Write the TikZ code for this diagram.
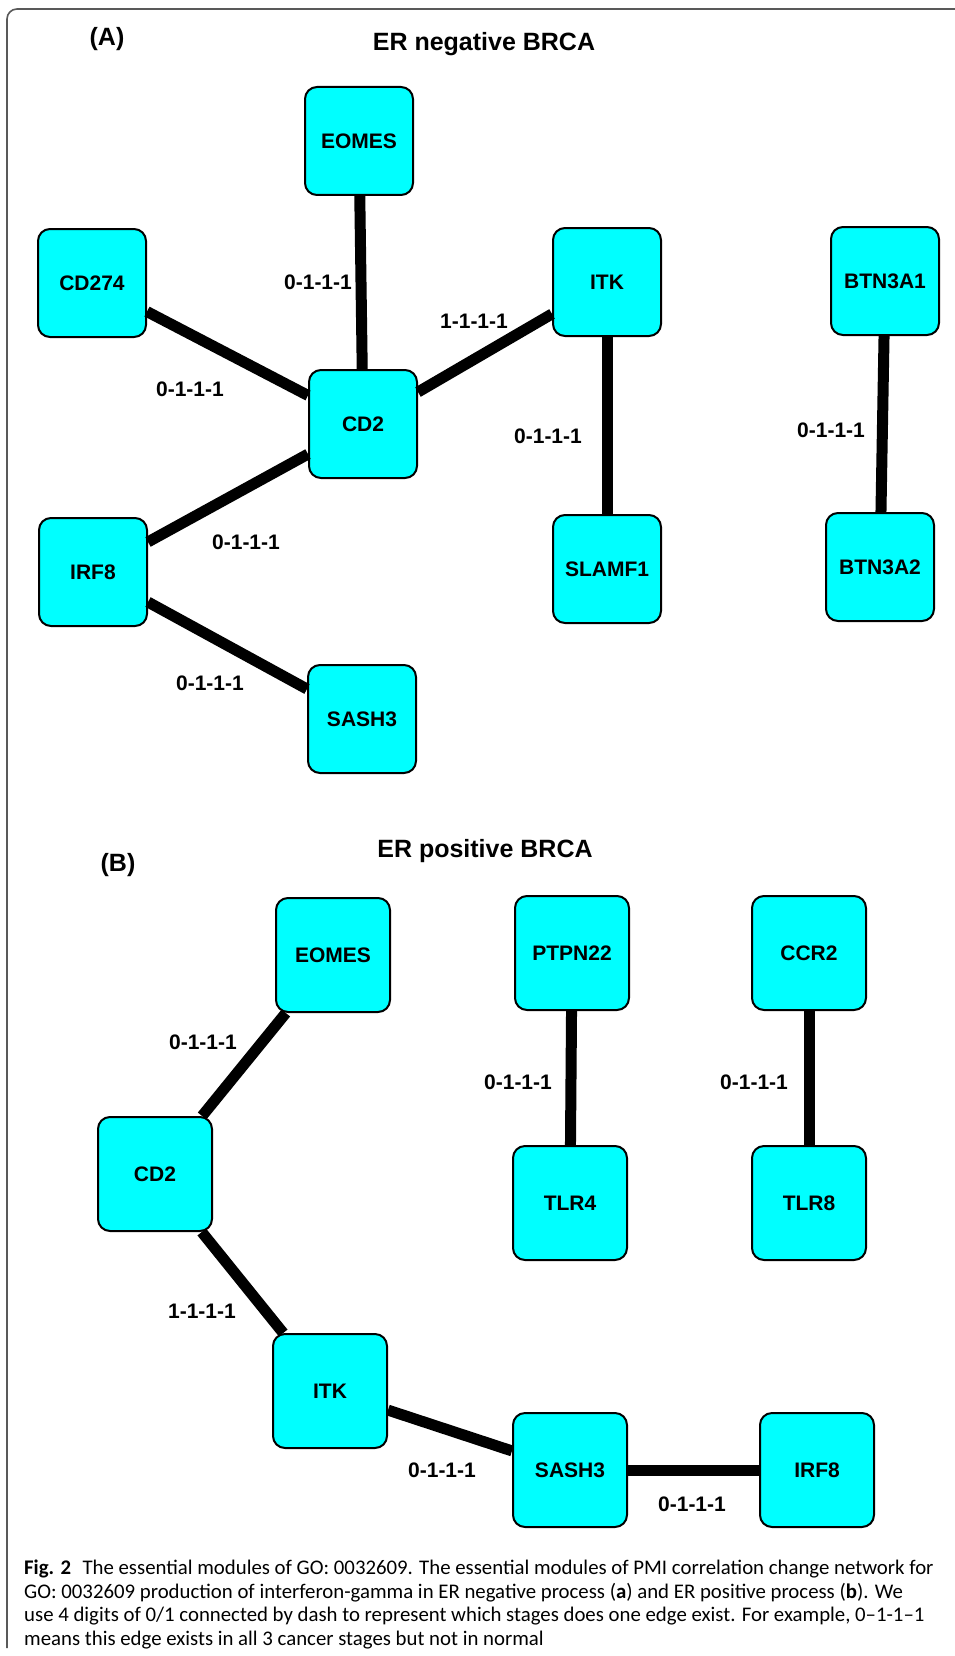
\documentclass[tikz,border=0pt]{standalone}
\usepackage{fontspec}
\setmainfont{Liberation Sans}
\newfontfamily\capfont{Carlito}
\usetikzlibrary{positioning}
\definecolor{aqua}{RGB}{0,255,255}

\begin{document}
\begin{tikzpicture}[x=1pt,y=-1pt,
  gene/.style={draw,line width=2pt,rounded corners=12pt,fill=aqua,minimum size=108pt,inner sep=0pt,font=\fontsize{21}{25}\selectfont\bfseries},
  geneb/.style={gene,minimum size=114pt},
  link/.style={line width=11pt},
  elab/.style={font=\fontsize{21}{25}\selectfont\bfseries,inner sep=0pt},
  ttl/.style={font=\fontsize{25}{30}\selectfont\bfseries,inner sep=0pt}]
\useasboundingbox (0,0) rectangle (955,1656);
\draw[line width=1.6pt,black!65,rounded corners=10pt] (7,1648) -- (7,9) -- (960,9);

\node[ttl] (ta) at (107,39) {(A)};
\node[ttl] (tna) at (484,44) {ER negative BRCA};
\node[gene] (eomesA) at (359,141) {EOMES};
\node[gene] (cd274A) at (92,283) {CD274};
\node[gene] (itkA) at (607,282) {ITK};
\node[gene] (btn1A) at (885,281) {BTN3A1};
\node[gene] (cd2A) at (363,424) {CD2};
\node[gene] (irf8A) at (93,572) {IRF8};
\node[gene] (slamA) at (607,569) {SLAMF1};
\node[gene] (btn2A) at (880,567) {BTN3A2};
\node[gene] (sashA) at (362,719) {SASH3};
\draw[link] (eomesA) -- (cd2A); \draw[link] (cd274A) -- (cd2A); \draw[link] (cd2A) -- (itkA);
\draw[link] (cd2A) -- (irf8A); \draw[link] (irf8A) -- (sashA); \draw[link] (itkA) -- (slamA);
\draw[link] (btn1A) -- (btn2A);
\node[elab] (l1) at (318,282) {0-1-1-1};
\node[elab] (l2) at (190,389) {0-1-1-1};
\node[elab] (l3) at (474,321) {1-1-1-1};
\node[elab] (l4) at (548,436) {0-1-1-1};
\node[elab] (l5) at (831,430) {0-1-1-1};
\node[elab] (l6) at (246,542) {0-1-1-1};
\node[elab] (l7) at (210,683) {0-1-1-1};

\node[ttl] (tb) at (118,865) {(B)};
\node[ttl] (tpb) at (485,851) {ER positive BRCA};
\node[geneb] (eomesB) at (333,955) {EOMES};
\node[geneb] (ptpnB) at (572,953) {PTPN22};
\node[geneb] (ccr2B) at (809,953) {CCR2};
\node[geneb] (cd2B) at (155,1174) {CD2};
\node[geneb] (tlr4B) at (570,1203) {TLR4};
\node[geneb] (tlr8B) at (809,1203) {TLR8};
\node[geneb] (itkB) at (330,1391) {ITK};
\node[geneb] (sashB) at (570,1470) {SASH3};
\node[geneb] (irf8B) at (817,1470) {IRF8};
\draw[link] (eomesB) -- (cd2B); \draw[link] (cd2B) -- (itkB); \draw[link] (itkB) -- (sashB);
\draw[link] (sashB) -- (irf8B); \draw[link] (ptpnB) -- (tlr4B); \draw[link] (ccr2B) -- (tlr8B);
\node[elab] (m1) at (203,1042) {0-1-1-1};
\node[elab] (m2) at (518,1082) {0-1-1-1};
\node[elab] (m3) at (754,1082) {0-1-1-1};
\node[elab] (m4) at (202,1311) {1-1-1-1};
\node[elab] (m5) at (442,1470) {0-1-1-1};
\node[elab] (m6) at (692,1504) {0-1-1-1};

\node[anchor=north west,inner sep=0pt,align=left,font=\capfont\fontsize{20.8}{23.5}\selectfont] (cap) at (24,1560)
 {\textbf{Fig. 2}\hspace{0.55em}The essential modules of GO: 0032609. The essential modules of PMI correlation change network for\\
  GO: 0032609 production of interferon-gamma in ER negative process (\textbf{a}) and ER positive process (\textbf{b}). We\\
  use 4 digits of 0/1 connected by dash to represent which stages does one edge exist. For example, 0–1-1–1\\
  means this edge exists in all 3 cancer stages but not in normal};
\end{tikzpicture}
\end{document}
